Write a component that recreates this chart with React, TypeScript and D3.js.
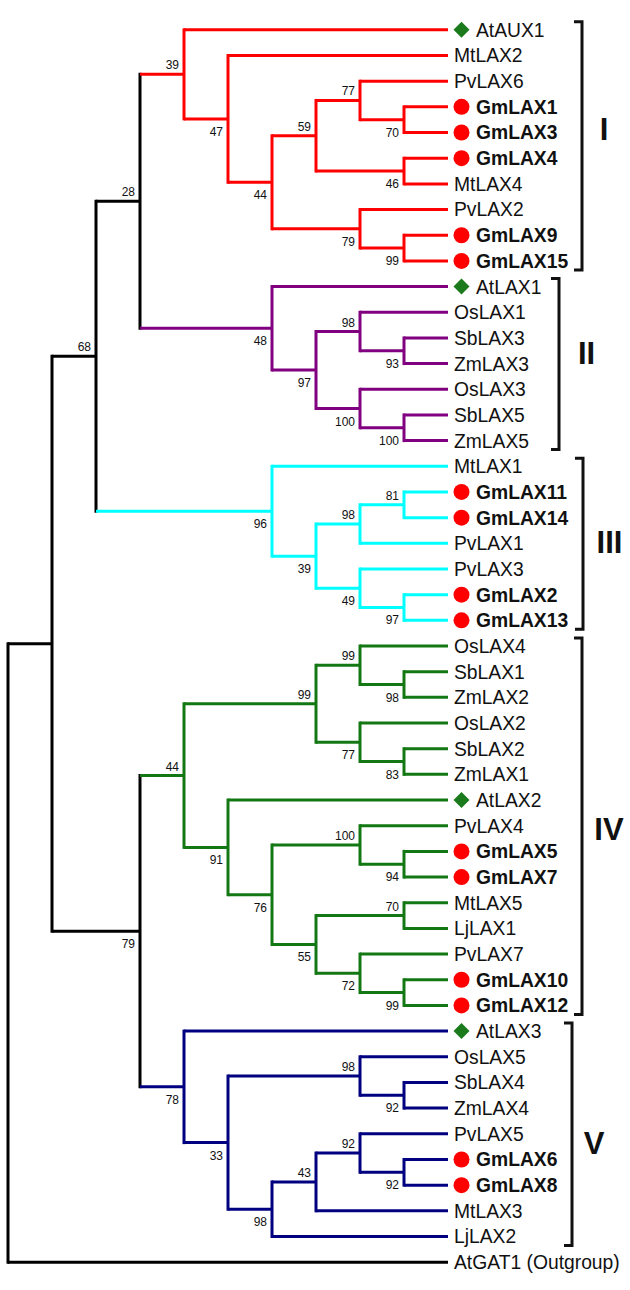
import React from "react";
import * as d3 from "d3";

// ---------- DATA ----------
const cladeNames = ["I", "II", "III", "IV", "V"];
const cladeColors = ["#ff0000", "#800080", "#00ffff", "#137813", "#000080"];
const cladeTrees = [
  "(AtAUX1,(MtLAX2,(((PvLAX6,(GmLAX1,GmLAX3)70)77,(GmLAX4,MtLAX4)46)59,(PvLAX2,(GmLAX9,GmLAX15)99)79)44)47)39",
  "(AtLAX1,((OsLAX1,(SbLAX3,ZmLAX3)93)98,(OsLAX3,(SbLAX5,ZmLAX5)100)100)97)48",
  "(MtLAX1,(((GmLAX11,GmLAX14)81,PvLAX1)98,(PvLAX3,(GmLAX2,GmLAX13)97)49)39)96",
  "(((OsLAX4,(SbLAX1,ZmLAX2)98)99,(OsLAX2,(SbLAX2,ZmLAX1)83)77)99,(AtLAX2,((PvLAX4,(GmLAX5,GmLAX7)94)100,((MtLAX5,LjLAX1)70,(PvLAX7,(GmLAX10,GmLAX12)99)72)55)76)91)44",
  "(AtLAX3,((OsLAX5,(SbLAX4,ZmLAX4)92)98,(((PvLAX5,(GmLAX6,GmLAX8)92)92,MtLAX3)43,LjLAX2)98)33)78",
];
const backboneTree = "((((I,II)28,III)68,(IV,V)79),OUT)";
const outgroupLabel = "AtGAT1 (Outgroup)";
const arabidopsisMarked = ["AtAUX1", "AtLAX1", "AtLAX2", "AtLAX3"];
const soybeanPrefix = "Gm";

// ---------- LAYOUT ----------
const W = 630;
const H = 1290;
const treeLeft = 8;
const treeRight = 448;
const leafTop = 17;
const leafBottom = 1275;
const bracketX = [582, 559, 583, 582, 572];
const cladeLabelPos = [
  [604, 129],
  [586.5, 353],
  [609.5, 542],
  [609, 829],
  [594, 1143],
];
const FONT = "'Liberation Sans', Arial, Helvetica, sans-serif";

type N = { name: string; children?: N[]; clade?: number };

function parseNewick(s: string): N {
  let i = 0;
  function node(): N {
    let children: N[] | undefined;
    if (s[i] === "(") {
      children = [];
      i++;
      children.push(node());
      while (s[i] === ",") {
        i++;
        children.push(node());
      }
      i++;
    }
    let name = "";
    while (i < s.length && !",()".includes(s[i])) name += s[i++];
    return children ? { name, children } : { name };
  }
  return node();
}

function tagClade(n: N, c: number) {
  n.clade = c;
  (n.children || []).forEach((ch) => tagClade(ch, c));
}

function buildTree(): N {
  const bb = parseNewick(backboneTree);
  function sub(n: N): N {
    if (!n.children) {
      const ci = cladeNames.indexOf(n.name);
      if (ci >= 0) {
        const t = parseNewick(cladeTrees[ci]);
        tagClade(t, ci);
        return t;
      }
      if (n.name === "OUT") return { name: outgroupLabel };
      return n;
    }
    return { name: n.name, children: n.children.map(sub) };
  }
  return sub(bb);
}

export default function App() {
  const rootData = buildTree();
  const root = d3.hierarchy<N>(rootData);
  const cluster = d3
    .cluster<N>()
    .separation(() => 1)
    .size([leafBottom - leafTop, treeRight - treeLeft]);
  cluster(root);

  const px = (d: any) => d.y + treeLeft;
  const py = (d: any) => d.x + leafTop;
  const colorOf = (d: any) =>
    d.data.clade !== undefined ? cladeColors[d.data.clade] : "#000000";

  const nodes = root.descendants();
  const leaves = root.leaves();
  const sw = 3;

  const lines: React.ReactNode[] = [];
  const labels: React.ReactNode[] = [];
  nodes.forEach((d: any, idx: number) => {
    if (d.children) {
      const ys = d.children.map(py);
      lines.push(
        <line
          key={"v" + idx}
          x1={px(d)}
          x2={px(d)}
          y1={Math.min(...ys) - sw / 2}
          y2={Math.max(...ys) + sw / 2}
          stroke={colorOf(d)}
          strokeWidth={sw}
        />
      );
    }
    if (d.parent) {
      lines.push(
        <line
          key={"h" + idx}
          x1={px(d.parent)}
          x2={px(d)}
          y1={py(d)}
          y2={py(d)}
          stroke={colorOf(d)}
          strokeWidth={sw}
        />
      );
      if (d.children && d.data.name) {
        const first = d.parent.children[0] === d;
        labels.push(
          <text
            key={"b" + idx}
            x={px(d) - 5}
            y={first ? py(d) - 5 : py(d) + 17}
            textAnchor="end"
            fontSize={12}
            fontFamily={FONT}
            fill="#111"
          >
            {d.data.name}
          </text>
        );
      }
    }
  });

  const leafEls = leaves.map((d: any, i: number) => {
    const name: string = d.data.name;
    const isGm = name.startsWith(soybeanPrefix);
    const isAt = arabidopsisMarked.includes(name);
    const x = px(d);
    const y = py(d);
    const mx = x + 13.5;
    return (
      <g key={"l" + i}>
        {isGm && <circle cx={mx} cy={y} r={8} fill="#ff0000" />}
        {isAt && (
          <path
            d={`M${mx},${y - 8}L${mx + 8},${y}L${mx},${y + 8}L${mx - 8},${y}Z`}
            fill="#1b7a1b"
          />
        )}
        <text
          x={isGm || isAt ? x + 28 : x + 6}
          y={y}
          dy="0.36em"
          fontSize={19.3}
          fontFamily={FONT}
          fontWeight={isGm ? "bold" : "normal"}
          fill="#111"
        >
          {name}
        </text>
      </g>
    );
  });

  // clade brackets
  const brackets = cladeNames.map((cn, ci) => {
    const cl = leaves.filter((d: any) => d.data.clade === ci);
    const y0 = d3.min(cl, py)! - 8;
    const y1 = d3.max(cl, py)! + 9;
    const bx = bracketX[ci];
    return (
      <g key={"br" + ci}>
        <path
          d={`M${bx - 8},${y0}H${bx}V${y1}H${bx - 8}`}
          fill="none"
          stroke="#111"
          strokeWidth={3}
        />
        <text
          x={cladeLabelPos[ci][0]}
          y={cladeLabelPos[ci][1]}
          dy="0.36em"
          textAnchor="middle"
          fontSize={31}
          fontWeight="bold"
          fontFamily={FONT}
          fill="#111"
        >
          {cn}
        </text>
      </g>
    );
  });

  return (
    <svg
      width={W}
      height={H}
      style={{ position: "absolute", left: 0, top: 0, background: "#fff" }}
    >
      <rect width={W} height={H} fill="#fff" />
      {lines}
      {labels}
      {leafEls}
      {brackets}
    </svg>
  );
}
